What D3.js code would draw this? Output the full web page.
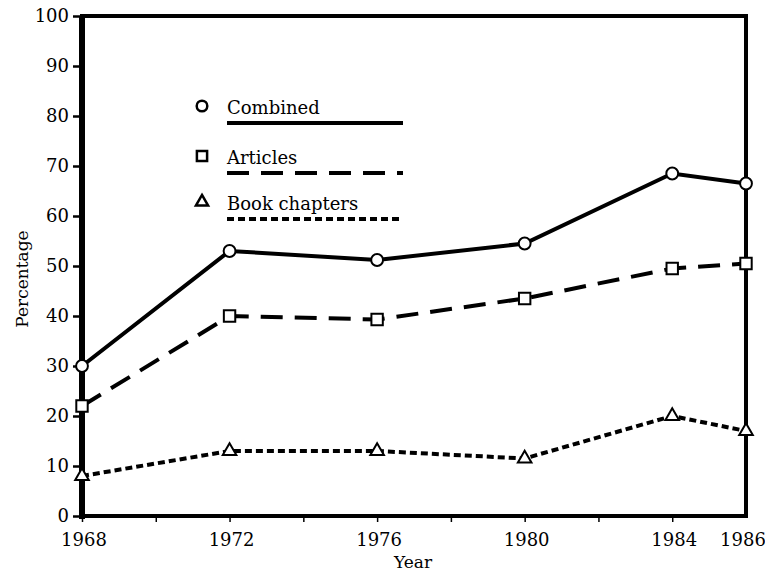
<!DOCTYPE html>
<html>
<head>
<meta charset="utf-8">
<script src="https://cdn.jsdelivr.net/npm/d3@7"></script>
<style>
  body { margin: 0; background: #fff; }
  svg text { font-family: "DejaVu Serif", "Liberation Serif", serif; fill: #000; }
</style>
</head>
<body>
<div id="chart"></div>
<script>
// data
const years = [1968, 1972, 1976, 1980, 1984, 1986];
const combined = [30, 53, 51.2, 54.5, 68.5, 66.5];
const articles = [22, 40, 39.3, 43.5, 49.5, 50.5];
const bookChapters = [8, 13, 13, 11.5, 20, 17];
const seriesNames = ['Combined', 'Articles', 'Book chapters'];
const yTicks = [0, 10, 20, 30, 40, 50, 60, 70, 80, 90, 100];
const xMinorTicks = [1968, 1970, 1972, 1974, 1976, 1978, 1980, 1982, 1984];
const xLabels = [1968, 1972, 1976, 1980, 1984, 1986];

const width = 765, height = 576;
const margin = { top: 16, right: 19, bottom: 60, left: 82 };

const svg = d3.select('#chart').append('svg')
  .attr('width', width)
  .attr('height', height);

const x = d3.scaleLinear().domain([1968, 1986]).range([margin.left, width - margin.right]);
const y = d3.scaleLinear().domain([0, 100]).range([height - margin.bottom, margin.top]);

// y axis
const yAxis = svg.append('g')
  .attr('transform', `translate(${margin.left},0)`)
  .call(d3.axisLeft(y).tickValues(yTicks).tickSize(9).tickPadding(4));
yAxis.select('.domain').remove();
yAxis.selectAll('.tick line').attr('stroke', '#000').attr('stroke-width', 2.5);
yAxis.selectAll('.tick text').style('font-size', '18px');

// x axis: minor ticks + labels
const xAxis = svg.append('g')
  .attr('transform', `translate(0,${y(0)})`)
  .call(d3.axisBottom(x).tickValues(xMinorTicks).tickSize(6).tickFormat(''));
xAxis.select('.domain').remove();
xAxis.selectAll('.tick line').attr('stroke', '#000').attr('stroke-width', 1.5);

svg.append('g').selectAll('text')
  .data(xLabels)
  .join('text')
  .attr('x', d => d === 1986 ? x(d) - 3 : x(d) + 2)
  .attr('y', y(0) + 30)
  .attr('text-anchor', 'middle')
  .style('font-size', '18px')
  .text(d => d);

// frame
svg.append('rect')
  .attr('x', x(1968))
  .attr('y', y(100))
  .attr('width', x(1986) - x(1968))
  .attr('height', y(0) - y(100))
  .attr('fill', 'none')
  .attr('stroke', '#000')
  .attr('stroke-width', 4);
svg.append('line')
  .attr('x1', x(1968)).attr('x2', x(1968))
  .attr('y1', y(100)).attr('y2', y(0) + 3)
  .attr('stroke', '#000').attr('stroke-width', 6);

// axis titles
svg.append('text')
  .attr('transform', 'translate(28,279) rotate(-90)')
  .attr('text-anchor', 'middle')
  .style('font-size', '17px')
  .text('Percentage');
svg.append('text')
  .attr('x', 413)
  .attr('y', 568)
  .attr('text-anchor', 'middle')
  .style('font-size', '17px')
  .text('Year');

const series = [
  { name: seriesNames[0], values: combined, dash: null, symbol: d3.symbolCircle, size: 110 },
  { name: seriesNames[1], values: articles, dash: '22,12', symbol: d3.symbolSquare, size: 130 },
  { name: seriesNames[2], values: bookChapters, dash: '7,4', symbol: d3.symbolTriangle, size: 80 }
];

const line = d3.line()
  .x(d => x(d[0]))
  .y(d => y(d[1]));

series.forEach(s => {
  const pts = years.map((yr, i) => [yr, s.values[i]]);
  svg.append('path')
    .datum(pts)
    .attr('d', line)
    .attr('fill', 'none')
    .attr('stroke', '#000')
    .attr('stroke-width', 4)
    .attr('stroke-dasharray', s.dash);

  svg.append('g').selectAll('path')
    .data(pts)
    .join('path')
    .attr('transform', d => `translate(${x(d[0])},${y(d[1])})`)
    .attr('d', d3.symbol().type(s.symbol).size(s.size))
    .attr('fill', '#fff')
    .attr('stroke', '#000')
    .attr('stroke-width', 2);
});

// legend
const legendY = [106, 156, 202];
const legend = svg.append('g');
series.forEach((s, i) => {
  const ly = legendY[i];
  legend.append('path')
    .attr('transform', `translate(202,${ly})`)
    .attr('d', d3.symbol().type(s.symbol).size(s.size * 0.8))
    .attr('fill', '#fff')
    .attr('stroke', '#000')
    .attr('stroke-width', 2.5);
  legend.append('text')
    .attr('x', 227)
    .attr('y', ly + 8)
    .style('font-size', '18px')
    .text(s.name);
  legend.append('line')
    .attr('x1', 227).attr('x2', 403)
    .attr('y1', ly + 17).attr('y2', ly + 17)
    .attr('stroke', '#000')
    .attr('stroke-width', 4)
    .attr('stroke-dasharray', s.dash);
});
</script>
</body>
</html>
